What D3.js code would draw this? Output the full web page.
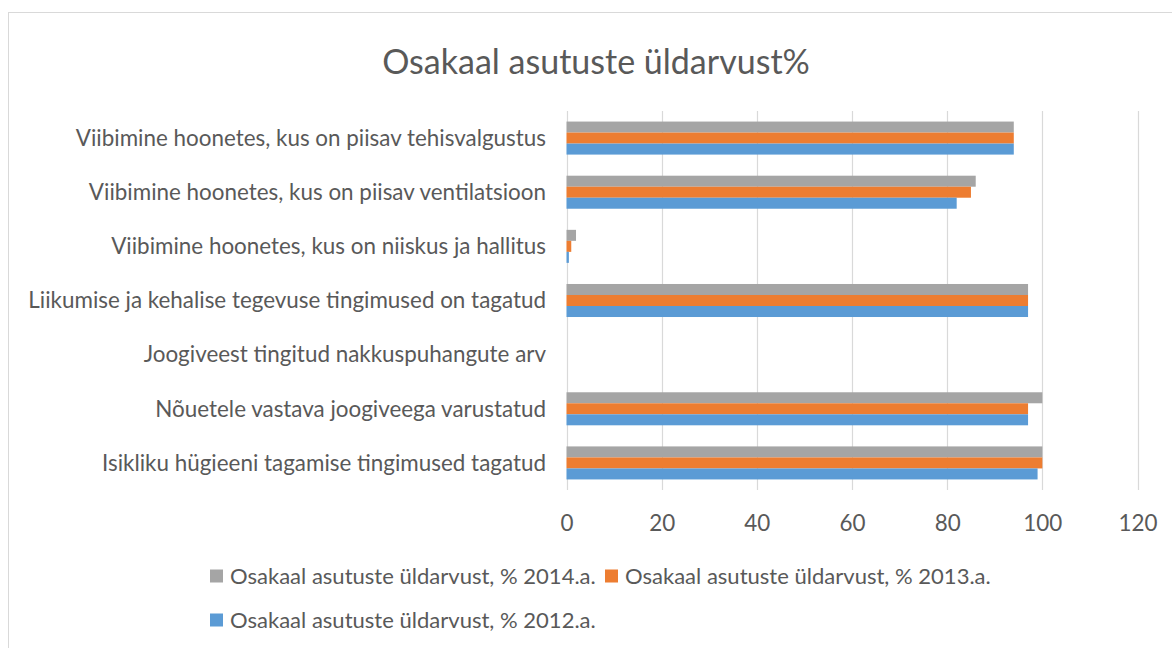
<!DOCTYPE html>
<html>
<head>
<meta charset="utf-8">
<script src="https://cdn.jsdelivr.net/npm/d3@7"></script>
<style>
  body { margin: 0; background: #fff; }
  svg { display: block; font-family: Lato, "Open Sans", sans-serif; }
</style>
</head>
<body>
<div id="chart"></div>
<script>
// Categories listed top to bottom as shown
const categories = [
  "Viibimine hoonetes, kus on piisav tehisvalgustus",
  "Viibimine hoonetes, kus on piisav ventilatsioon",
  "Viibimine hoonetes, kus on niiskus ja hallitus",
  "Liikumise ja kehalise tegevuse tingimused on tagatud",
  "Joogiveest tingitud nakkuspuhangute arv",
  "Nõuetele vastava joogiveega varustatud",
  "Isikliku hügieeni tagamise tingimused tagatud"
];
const values2014 = [94, 86, 2, 97, 0, 100, 100];
const values2013 = [94, 85, 1, 97, 0, 97, 100];
const values2012 = [94, 82, 0.5, 97, 0, 97, 99];
const seriesNames = [
  "Osakaal asutuste üldarvust, % 2014.a.",
  "Osakaal asutuste üldarvust, % 2013.a.",
  "Osakaal asutuste üldarvust, % 2012.a."
];
const xTicks = [0, 20, 40, 60, 80, 100, 120];
const titleText = "Osakaal asutuste üldarvust%";

const seriesValues = [values2014, values2013, values2012];
const colors = ["#A5A5A5", "#ED7D31", "#5B9BD5"];
const textColor = "#595959";

const W = 1172, H = 648;
const plot = { left: 566.5, right: 1137.5, top: 111, bottom: 490 };

const svg = d3.select("#chart").append("svg").attr("width", W).attr("height", H);

// Chart frame
svg.append("rect")
  .attr("x", 8.5).attr("y", 12.5)
  .attr("width", W + 10).attr("height", H + 10)
  .attr("fill", "#fff").attr("stroke", "#d9d9d9").attr("stroke-width", 1);

// Helper: pick a font size so a text string fits a target width
function fitSize(text, target, base) {
  const t = svg.append("text").style("font-size", base + "px").text(text);
  const w = t.node().getComputedTextLength();
  t.remove();
  return base * target / w;
}

// Scales
const x = d3.scaleLinear().domain([0, 120]).range([plot.left, plot.right]);
const y = d3.scaleBand().domain(categories).range([plot.top, plot.bottom])
  .paddingInner(0.39).paddingOuter(0.195);
const ySub = d3.scaleBand().domain(d3.range(seriesValues.length)).range([0, y.bandwidth()]);

// Gridlines
svg.append("g").selectAll("line")
  .data(xTicks)
  .join("line")
  .attr("x1", d => Math.round(x(d)) + 0.5)
  .attr("x2", d => Math.round(x(d)) + 0.5)
  .attr("y1", plot.top)
  .attr("y2", plot.bottom)
  .attr("stroke", "#d9d9d9")
  .attr("stroke-width", 1.2);

// Bars
const rows = categories.map((c, i) => ({ cat: c, vals: seriesValues.map(s => s[i]) }));
const groups = svg.append("g").selectAll("g")
  .data(rows)
  .join("g")
  .attr("transform", d => `translate(0,${y(d.cat)})`);

groups.selectAll("rect")
  .data(d => d.vals.map((v, k) => ({ v, k })))
  .join("rect")
  .attr("x", x(0))
  .attr("y", d => ySub(d.k))
  .attr("width", d => x(d.v) - x(0))
  .attr("height", ySub.bandwidth())
  .attr("fill", d => colors[d.k]);

// Category labels
const catSize = fitSize(categories[3], 518, 18);
svg.append("g").selectAll("text")
  .data(categories)
  .join("text")
  .attr("x", 546)
  .attr("y", d => y(d) + y.bandwidth() / 2)
  .attr("dy", "0.35em")
  .attr("text-anchor", "end")
  .style("font-size", catSize + "px")
  .style("fill", textColor)
  .text(d => d);

// X axis tick labels
const xAxis = svg.append("g")
  .attr("transform", `translate(0,${plot.bottom})`)
  .call(d3.axisBottom(x).tickValues(xTicks).tickSize(0).tickPadding(25));
xAxis.select(".domain").remove();
xAxis.selectAll("text")
  .style("font-size", catSize + "px")
  .style("font-family", "Lato, 'Open Sans', sans-serif")
  .style("fill", textColor);

// Title
const titleSize = fitSize(titleText, 428, 28);
svg.append("text")
  .attr("x", 596)
  .attr("y", 62)
  .attr("dy", "0.35em")
  .attr("text-anchor", "middle")
  .style("font-size", titleSize + "px")
  .style("fill", textColor)
  .text(titleText);

// Legend
const legSize = fitSize(seriesNames[0], 366, 17);
const legendPos = [
  { x: 210, y: 576 },
  { x: 605, y: 576 },
  { x: 210, y: 620 }
];
const legend = svg.append("g").selectAll("g")
  .data(seriesNames)
  .join("g")
  .attr("transform", (d, i) => `translate(${legendPos[i].x},${legendPos[i].y})`);

legend.append("rect")
  .attr("x", 0).attr("y", -6.5)
  .attr("width", 13).attr("height", 13)
  .attr("fill", (d, i) => colors[i]);

legend.append("text")
  .attr("x", 20)
  .attr("y", 0)
  .attr("dy", "0.35em")
  .style("font-size", legSize + "px")
  .style("fill", textColor)
  .text(d => d);
</script>
</body>
</html>
